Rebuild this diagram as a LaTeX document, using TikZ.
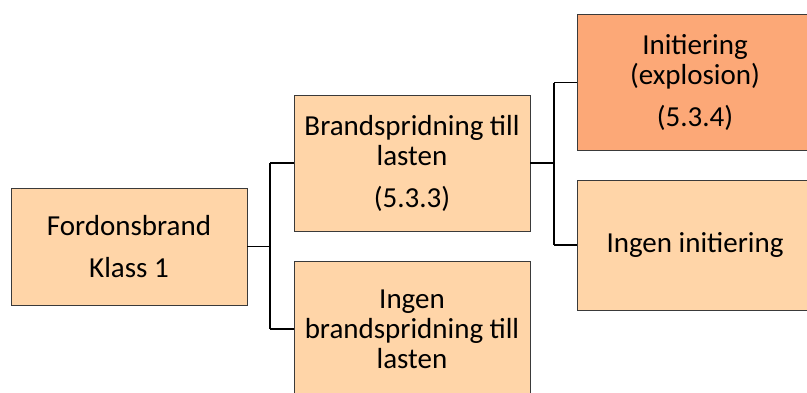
\documentclass[tikz,border=0pt]{standalone}
\usepackage{fontspec}
\setmainfont{Carlito}
\definecolor{peach}{HTML}{FFD5A8}
\definecolor{peachdark}{HTML}{FCA877}
\definecolor{boxline}{HTML}{3A3A3A}
\begin{document}
\begin{tikzpicture}[x=1pt,y=-1pt,
  stagebox/.style={draw=boxline,line width=0.9pt,fill=peach,rectangle,
    minimum width=236pt,minimum height=#1,inner sep=0pt,align=center,
    font=\fontsize{29}{30}\selectfont,text=black},
  stagebox/.default=136pt,
  link/.style={draw=black,line width=1.2pt}]
\useasboundingbox (0,0) rectangle (807,392);
\clip (0,0) rectangle (807,392);
% first level
\node[stagebox=117pt] (fire) at (129,246.5) {Fordonsbrand\\[12.5pt]Klass 1};
% second level
\node[stagebox] (spread) at (412,163) {Brandspridning till\\lasten\\[12pt](5.3.3)};
\node[stagebox] (nospread) at (412,329) {Ingen\\brandspridning till\\lasten};
% third level
\node[stagebox,fill=peachdark] (init) at (695,82.5) {Initiering\\(explosion)\\[12pt](5.3.4)};
\node[stagebox=130pt] (noinit) at (695,245) {Ingen initiering};
% elbow connectors
\coordinate (j1) at (270,246.5);
\coordinate (j2) at (554,163);
\draw[link] (fire.east) -- (j1);
\draw[link] (j1 |- spread.west) -- (j1 |- nospread.west);
\draw[link] (j1 |- spread.west) -- (spread.west);
\draw[link] (j1 |- nospread.west) -- (nospread.west);
\draw[link] (spread.east) -- (j2);
\draw[link] (j2 |- init.west) -- (j2 |- noinit.west);
\draw[link] (j2 |- init.west) -- (init.west);
\draw[link] (j2 |- noinit.west) -- (noinit.west);
\end{tikzpicture}
\end{document}
